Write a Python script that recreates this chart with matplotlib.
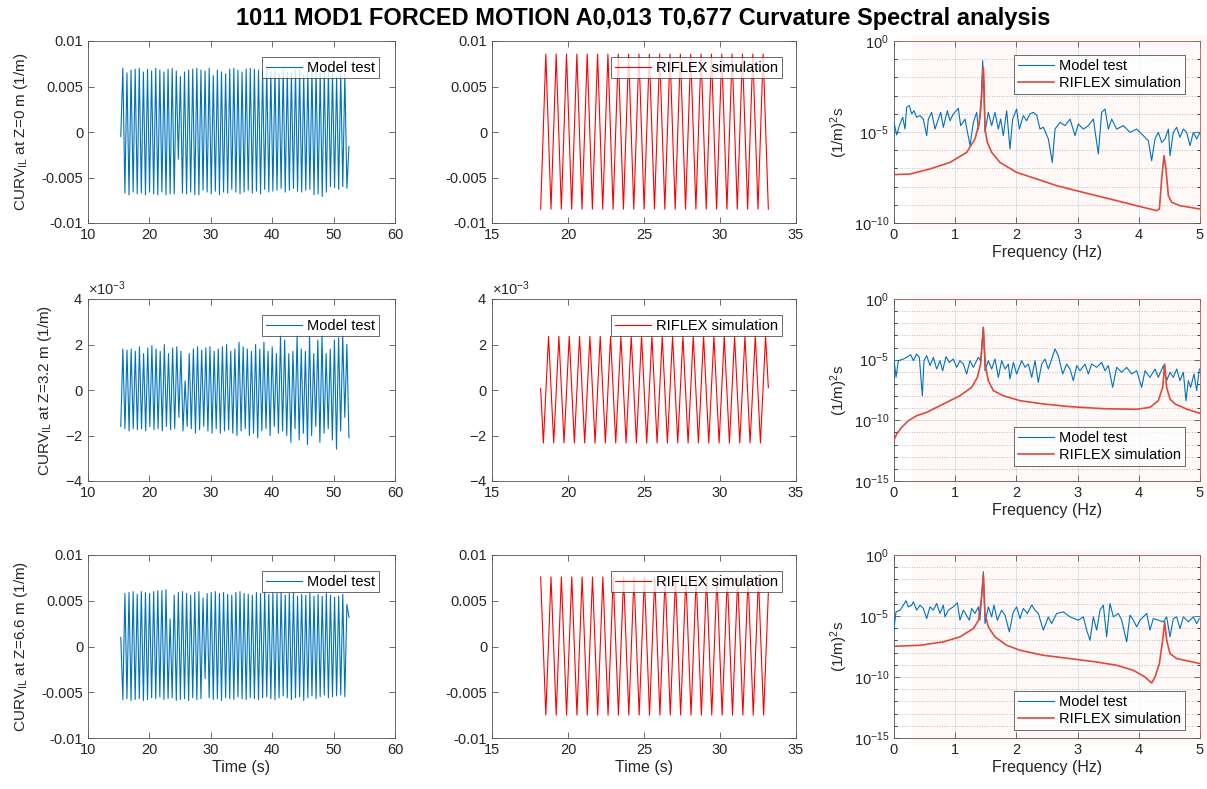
import numpy as np
import matplotlib
matplotlib.use("Agg")
import matplotlib.pyplot as plt
from matplotlib.ticker import FuncFormatter, ScalarFormatter, LogLocator, NullFormatter, FixedLocator
from matplotlib.patches import Rectangle
import matplotlib.font_manager as fm

# ---------------------------------------------------------------- data ----
title = "1011 MOD1 FORCED MOTION A0,013 T0,677 Curvature Spectral analysis"
ylabels_time = [r"CURV$_{\mathrm{IL}}$ at Z=0 m (1/m)",
                r"CURV$_{\mathrm{IL}}$ at Z=3.2 m (1/m)",
                r"CURV$_{\mathrm{IL}}$ at Z=6.6 m (1/m)"]
ylabel_psd = r"(1/m)$^{2}$s"

# Model test time series (values x1e-3), extremes read cycle by cycle
mt1_t_range = (15.34, 52.5)
mt1_start, mt1_end = -0.5, -1.6
mt1_peaks = [7.0, 6.5, 6.8, 6.9, 7.0, 6.6, 6.9, 6.7, 7.0, 6.8, 6.6, 6.9, 7.0, 6.7, 6.1, 6.6, 6.8, 6.9, 7.0,
             6.8, 6.7, 7.0, 6.2, 6.8, 6.6, 6.4, 6.9, 7.0, 6.8, 6.6, 6.9, 7.0, 6.9, 6.8, 6.7, 6.9, 6.6, 6.8,
             6.4, 6.9, 6.6, 6.5, 6.8, 6.9, 6.2, 6.6, 6.8, 6.9, 6.5, 6.7, 6.8, 6.6, 6.2, 6.5, 6.4]
mt1_troughs = [-6.7, -6.9, -6.6, -6.8, -6.7, -6.9, -6.6, -6.8, -6.9, -6.6, -6.9, -6.8, -6.8, -3.0, -6.7,
               -6.8, -6.6, -6.9, -6.9, -6.4, -6.6, -6.8, -6.5, -6.9, -6.6, -6.7, -6.3, -6.6, -6.8, -6.6,
               -6.4, -6.7, -6.5, -6.8, -6.3, -6.6, -6.5, -6.4, -6.2, -6.6, -6.4, -6.2, -6.5, -6.6, -6.4,
               -6.3, -6.9, -6.8, -7.1, -6.6, -6.0, -6.1, -6.3, -6.0, -6.2]

mt2_t_range = (15.34, 52.5)
mt2_start = -1.6
mt2_peaks = [1.8, 1.75, 1.8, 1.7, 1.9, 1.6, 1.85, 1.95, 1.8, 1.7, 2.0, 1.6, 1.85, 1.9, 1.7, 0.4, 1.6, 1.8,
             1.9, 1.75, 1.85, 1.9, 1.7, 1.8, 1.9, 2.0, 1.7, 1.8, 2.1, 1.9, 1.8, 1.7, 2.0, 1.8, 2.1, 1.7,
             1.9, 1.6, 2.4, 2.2, 1.6, 1.7, 2.4, 1.8, 1.7, 2.4, 1.6, 2.2, 2.4, 1.6, 1.8, 2.2, 2.3, 2.4, 2.0]
mt2_troughs = [-1.7, -1.8, -1.7, -1.75, -1.7, -1.8, -1.6, -1.75, -1.7, -1.8, -1.6, -1.75, -1.7, -1.2,
               -1.8, -1.6, -1.7, -1.9, -1.75, -1.6, -1.8, -1.9, -1.7, -1.9, -1.8, -1.75, -1.9, -2.0,
               -1.8, -1.7, -2.0, -1.9, -2.1, -1.8, -1.7, -2.0, -1.6, -1.9, -1.8, -2.0, -2.3, -1.7,
               -2.2, -1.9, -2.4, -2.0, -1.6, -2.3, -1.9, -1.7, -2.2, -2.6, -1.8, -1.2, -2.1]

mt3_t_range = (15.34, 52.5)
mt3_start, mt3_end = 1.0, 3.2
mt3_troughs = [-5.8, -5.7, -5.9, -5.8, -5.7, -5.9, -5.8, -5.6, -5.7, -5.5, -5.8, -5.7, -5.6, -5.9, -5.8,
               -5.7, -5.9, -5.6, -5.8, -5.7, -3.5, -5.6, -5.8, -5.7, -5.9, -5.6, -5.7, -5.8, -5.5,
               -5.7, -5.8, -5.6, -5.7, -5.8, -5.6, -5.5, -5.7, -5.8, -5.6, -5.4, -5.6, -5.8, -5.6,
               -5.5, -5.9, -5.6, -5.4, -5.7, -5.5, -5.3, -5.6, -5.5, -5.4, -5.3, -5.5]
mt3_peaks = [5.8, 5.9, 6.0, 5.7, 6.0, 5.9, 5.8, 6.0, 6.1, 6.1, 6.2, 3.0, 5.6, 5.9, 6.0, 5.8, 5.6, 5.9,
             6.0, 5.3, 5.8, 5.9, 6.0, 5.8, 5.9, 5.7, 5.6, 5.9, 6.0, 5.8, 5.7, 5.6, 5.9, 5.8, 6.0, 5.7,
             5.9, 5.8, 5.9, 5.6, 5.8, 5.9, 5.5, 5.7, 5.6, 5.8, 5.5, 5.7, 5.5, 5.8, 5.6, 5.4, 5.5, 5.7, 4.6]

# RIFLEX simulation time series (values x1e-3)
rf1_t_range = (18.2, 33.18)
rf1_troughs = [-8.48, -8.48, -8.48, -8.48, -8.48, -8.48, -8.48, -8.48, -8.48, -8.48, -8.48, -8.48,
               -8.48, -8.48, -8.48, -8.48, -8.48, -8.48, -8.48, -8.48, -8.48, -8.48, -8.48]
rf1_peaks = [8.56, 8.56, 8.56, 8.56, 8.56, 8.56, 8.56, 8.56, 8.56, 8.56, 8.56, 8.56, 8.56, 8.56, 8.56,
             8.56, 8.56, 8.56, 8.56, 8.56, 8.56, 8.56]

rf2_t_edges = (18.2, 33.18)
rf2_t_extremes = (18.38, 33.0)
rf2_start, rf2_end = 0.07, 0.1
rf2_troughs = [-2.33, -2.33, -2.33, -2.33, -2.33, -2.33, -2.33, -2.33, -2.33, -2.33, -2.33, -2.33,
               -2.33, -2.33, -2.33, -2.33, -2.33, -2.33, -2.33, -2.33, -2.33, -2.33]
rf2_peaks = [2.36, 2.36, 2.36, 2.36, 2.36, 2.36, 2.36, 2.36, 2.36, 2.36, 2.36, 2.36, 2.36, 2.36, 2.36,
             2.36, 2.36, 2.36, 2.36, 2.36, 2.36, 2.36]

rf3_t_extremes = (18.2, 32.87)
rf3_t_end = 33.18
rf3_end = 5.8
rf3_peaks = [7.6, 7.6, 7.6, 7.6, 7.6, 7.6, 7.6, 7.6, 7.6, 7.6, 7.6, 7.6, 7.6, 7.6, 7.6, 7.6, 7.6, 7.6,
             7.6, 7.6, 7.6, 7.6]
rf3_troughs = [-7.5, -7.5, -7.5, -7.5, -7.5, -7.5, -7.5, -7.5, -7.5, -7.5, -7.5, -7.5, -7.5, -7.5, -7.5,
               -7.5, -7.5, -7.5, -7.5, -7.5, -7.5, -7.5]

# Spectra: frequency (Hz) and log10 of PSD ((1/m)^2 s)
psd1_mt_f = [0.00, 0.044, 0.087, 0.142, 0.18, 0.207, 0.251, 0.289, 0.327, 0.37, 0.425, 0.479, 0.534,
             0.561, 0.615, 0.67, 0.724, 0.763, 0.806, 0.871, 0.915, 0.969, 1.051, 1.089, 1.16, 1.242,
             1.296, 1.351, 1.378, 1.416, 1.449, 1.47, 1.487, 1.541, 1.596, 1.65, 1.705, 1.743, 1.786,
             1.841, 1.895, 1.939, 2.004, 2.048, 2.113, 2.168, 2.22, 2.277, 2.331, 2.386, 2.44, 2.522,
             2.587, 2.631, 2.712, 2.794, 2.876, 2.958, 3.012, 3.094, 3.175, 3.257, 3.339, 3.393, 3.448,
             3.502, 3.557, 3.638, 3.747, 3.856, 3.965, 4.074, 4.156, 4.21, 4.265, 4.319, 4.374, 4.428,
             4.483, 4.51, 4.564, 4.619, 4.673, 4.728, 4.782, 4.837, 4.891, 4.946, 5.0]
psd1_mt_log = [-4.47, -5.16, -4.65, -4.19, -4.84, -3.64, -3.55, -4.01, -3.83, -4.19, -4.10, -4.29, -5.20,
               -4.29, -3.92, -4.84, -4.29, -3.92, -4.74, -3.83, -4.38, -4.01, -3.70, -4.65, -4.29, -5.75,
               -4.47, -3.92, -4.84, -3.92, -1.08, -3.0, -5.02, -3.92, -4.65, -3.92, -4.84, -4.29, -5.20,
               -3.83, -5.93, -4.29, -3.74, -4.84, -4.10, -4.38, -4.01, -3.92, -4.07, -4.84, -4.74, -5.38,
               -6.67, -4.84, -4.47, -4.65, -4.29, -5.20, -4.56, -4.84, -4.65, -4.29, -6.21, -3.92, -3.74,
               -4.84, -4.29, -4.84, -4.65, -5.02, -4.84, -5.20, -5.48, -6.58, -5.38, -5.02, -5.57, -5.38,
               -4.84, -6.30, -5.02, -4.74, -5.29, -4.84, -5.02, -5.75, -5.02, -5.38, -5.02]
psd1_rf_f = [0.0, 0.261, 0.588, 0.915, 1.187, 1.324, 1.394, 1.432, 1.449, 1.46, 1.471, 1.487, 1.525,
             1.596, 1.732, 2.004, 2.331, 2.658, 3.094, 3.529, 3.965, 4.292, 4.336, 4.374, 4.412, 4.444,
             4.483, 4.537, 4.673, 5.0]
psd1_rf_log = [-7.34, -7.31, -7.03, -6.67, -6.12, -5.38, -4.47, -3.0, -1.9, -1.45, -2.27, -4.84, -5.57,
               -6.12, -6.67, -7.22, -7.58, -7.95, -8.32, -8.68, -9.05, -9.32, -9.23, -7.58, -6.30, -7.03,
               -8.50, -8.86, -9.05, -9.23]

psd2_mt_f = [0.0, 0.033, 0.071, 0.153, 0.207, 0.272, 0.316, 0.37, 0.414, 0.463, 0.49, 0.534, 0.588,
             0.643, 0.697, 0.752, 0.795, 0.85, 0.904, 0.969, 1.024, 1.078, 1.133, 1.187, 1.242, 1.296,
             1.378, 1.416, 1.46, 1.487, 1.541, 1.596, 1.65, 1.705, 1.759, 1.814, 1.868, 1.895, 1.95,
             2.004, 2.086, 2.141, 2.195, 2.25, 2.304, 2.358, 2.413, 2.467, 2.522, 2.631, 2.685, 2.756,
             2.821, 2.876, 2.93, 2.985, 3.039, 3.121, 3.175, 3.23, 3.312, 3.393, 3.448, 3.502, 3.573,
             3.638, 3.72, 3.802, 3.883, 3.965, 4.047, 4.101, 4.183, 4.265, 4.319, 4.401, 4.455, 4.51,
             4.564, 4.619, 4.673, 4.728, 4.771, 4.809, 4.847, 4.902, 4.946, 4.989]
psd2_mt_log = [-4.95, -6.46, -5.08, -4.95, -4.81, -4.59, -5.08, -4.53, -4.81, -7.97, -5.08, -4.67, -5.49,
               -4.81, -5.77, -5.08, -5.91, -4.75, -5.22, -4.95, -5.63, -5.08, -5.36, -6.18, -5.08, -5.63,
               -4.81, -5.08, -2.34, -5.91, -5.08, -5.77, -4.95, -6.46, -5.08, -5.77, -5.36, -6.59, -5.22,
               -6.18, -5.08, -5.63, -5.36, -6.46, -5.08, -6.87, -5.36, -4.95, -5.77, -4.12, -4.67, -6.18,
               -5.36, -5.77, -6.73, -5.49, -5.91, -5.36, -6.18, -5.36, -5.63, -5.22, -5.91, -5.49, -7.28,
               -5.63, -6.04, -5.63, -6.18, -5.91, -7.28, -5.91, -6.46, -5.77, -6.46, -5.49, -6.73, -6.04,
               -6.46, -5.77, -6.73, -6.04, -8.38, -6.73, -7.28, -6.18, -7.55, -5.77]
psd2_rf_f = [0.0, 0.044, 0.125, 0.234, 0.37, 0.534, 0.697, 0.915, 1.078, 1.269, 1.362, 1.416, 1.443,
             1.46, 1.476, 1.498, 1.541, 1.623, 1.786, 2.059, 2.44, 2.876, 3.42, 3.965, 4.183, 4.319,
             4.39, 4.423, 4.455, 4.51, 4.592, 4.782, 5.0]
psd2_rf_log = [-11.62, -11.13, -10.58, -10.03, -9.62, -9.34, -8.93, -8.38, -7.97, -7.28, -6.46, -5.36,
               -3.43, -2.34, -3.98, -5.63, -6.73, -7.55, -7.97, -8.38, -8.65, -8.87, -9.04, -9.09, -8.93,
               -8.38, -7.28, -5.36, -7.28, -8.24, -8.65, -9.07, -9.43]

psd3_mt_f = [0.0, 0.033, 0.098, 0.153, 0.196, 0.234, 0.289, 0.316, 0.37, 0.425, 0.479, 0.534, 0.588,
             0.643, 0.697, 0.752, 0.806, 0.833, 0.888, 0.969, 1.035, 1.078, 1.133, 1.231, 1.269, 1.324,
             1.378, 1.405, 1.46, 1.487, 1.541, 1.596, 1.634, 1.688, 1.759, 1.814, 1.885, 1.95, 2.004,
             2.059, 2.113, 2.179, 2.25, 2.304, 2.358, 2.44, 2.522, 2.576, 2.658, 2.767, 2.876, 3.012,
             3.094, 3.148, 3.203, 3.257, 3.312, 3.366, 3.42, 3.475, 3.529, 3.584, 3.666, 3.72, 3.802,
             3.856, 3.911, 3.965, 4.02, 4.129, 4.183, 4.237, 4.319, 4.401, 4.455, 4.51, 4.564, 4.619,
             4.673, 4.728, 4.809, 4.891, 4.946, 4.989]
psd3_mt_log = [-6.03, -4.66, -4.52, -4.11, -3.75, -4.25, -4.11, -3.84, -4.52, -4.11, -4.38, -5.21, -4.25,
               -4.52, -3.97, -4.79, -4.11, -5.07, -4.52, -4.25, -3.92, -5.34, -4.52, -5.34, -4.38, -4.79,
               -4.25, -5.34, -1.37, -5.62, -4.25, -5.07, -4.11, -5.34, -4.52, -4.93, -6.30, -4.66, -4.25,
               -5.21, -4.38, -4.79, -4.11, -4.52, -4.79, -6.16, -5.07, -5.62, -4.79, -4.66, -5.07, -5.34,
               -5.07, -6.16, -6.99, -5.07, -6.16, -4.52, -4.11, -6.71, -3.97, -5.07, -4.79, -5.34, -7.12,
               -4.93, -5.34, -5.89, -5.34, -4.79, -6.16, -5.21, -5.34, -5.48, -5.07, -6.71, -5.21, -5.07,
               -6.03, -5.07, -5.48, -5.07, -5.62, -5.21]
psd3_rf_f = [0.0, 0.425, 0.806, 1.078, 1.296, 1.383, 1.432, 1.46, 1.487, 1.541, 1.65, 1.841, 2.059, 2.44,
             2.876, 3.312, 3.638, 3.911, 4.101, 4.21, 4.265, 4.336, 4.39, 4.423, 4.455, 4.51, 4.619, 5.0]
psd3_rf_log = [-7.48, -7.40, -7.12, -6.71, -6.03, -5.34, -3.42, -1.64, -4.79, -5.89, -6.71, -7.40, -7.81,
               -8.22, -8.49, -8.77, -9.04, -9.45, -10.0, -10.49, -10.0, -8.90, -6.99, -5.48, -6.99, -8.08,
               -8.49, -8.90]

# ---------------------------------------------------------------- style ---
W, H = 1207, 789
plt.rcParams["font.family"] = ["Liberation Sans", "DejaVu Sans"]
plt.rcParams["mathtext.fontset"] = "custom"
plt.rcParams["mathtext.rm"] = "Liberation Sans"
plt.rcParams["mathtext.it"] = "Liberation Sans:italic"
plt.rcParams["mathtext.bf"] = "Liberation Sans:bold"
plt.rcParams["mathtext.default"] = "regular"
plt.rcParams["axes.unicode_minus"] = False

avail = {f.name for f in fm.fontManager.ttflist}
title_family = "Liberation Sans Narrow" if "Liberation Sans Narrow" in avail else "Liberation Sans"

C_BLUE = "#0072BD"
C_RED = "#FF0000"
C_PSD_RED = "#dc4a3c"
C_AX = "#262626"

fig = plt.figure(figsize=(W / 100, H / 100), dpi=100)


def interleave(a, b):
    out = np.empty(len(a) + len(b))
    out[0::2] = a
    out[1::2] = b
    return out


def px_axes(x0, top, x1, bottom):
    return fig.add_axes([x0 / W, 1 - bottom / H, (x1 - x0) / W, (bottom - top) / H])


def style(ax):
    for s in ax.spines.values():
        s.set_linewidth(0.6)
        s.set_color("#555555")
    ax.tick_params(which="both", direction="in", top=True, right=True, colors=C_AX,
                   labelsize=10.5, width=0.6, length=4)
    ax.tick_params(which="major", colors="#555555", labelcolor=C_AX)


def legend(ax, loc, anchor, labels_lines):
    lg = ax.legend(*labels_lines, loc=loc, bbox_to_anchor=anchor, fontsize=10.5, frameon=True,
                   fancybox=False, shadow=False, borderpad=0.25, handlelength=2.5,
                   handletextpad=0.35, borderaxespad=0.0, labelspacing=0.25)
    lg.get_frame().set_edgecolor(C_AX)
    lg.get_frame().set_linewidth(0.6)
    return lg


rows = [(41, 223), (299, 481), (555, 738)]
gfmt = FuncFormatter(lambda v, p: "%g" % v)

# time series data assembly
mt_series = [
    np.concatenate([[mt1_start], interleave(mt1_peaks, mt1_troughs), [mt1_end]]) * 1e-3,
    np.concatenate([[mt2_start], interleave(mt2_peaks, mt2_troughs)]) * 1e-3,
    np.concatenate([[mt3_start], interleave(mt3_troughs, mt3_peaks), [mt3_end]]) * 1e-3,
]
mt_ranges = [mt1_t_range, mt2_t_range, mt3_t_range]

rf1_y = interleave(rf1_troughs, rf1_peaks) * 1e-3
rf1_t = np.linspace(rf1_t_range[0], rf1_t_range[1], len(rf1_y))
rf2_ext = interleave(rf2_troughs, rf2_peaks)
rf2_y = np.concatenate([[rf2_start], rf2_ext, [rf2_end]]) * 1e-3
rf2_t = np.concatenate([[rf2_t_edges[0]], np.linspace(rf2_t_extremes[0], rf2_t_extremes[1], len(rf2_ext)),
                        [rf2_t_edges[1]]])
rf3_ext = interleave(rf3_peaks, rf3_troughs)
rf3_y = np.concatenate([rf3_ext, [rf3_end]]) * 1e-3
rf3_t = np.concatenate([np.linspace(rf3_t_extremes[0], rf3_t_extremes[1], len(rf3_ext)), [rf3_t_end]])
rf_series = [(rf1_t, rf1_y), (rf2_t, rf2_y), (rf3_t, rf3_y)]

psd_data = [
    (psd1_mt_f, psd1_mt_log, psd1_rf_f, psd1_rf_log, 1e-10),
    (psd2_mt_f, psd2_mt_log, psd2_rf_f, psd2_rf_log, 1e-15),
    (psd3_mt_f, psd3_mt_log, psd3_rf_f, psd3_rf_log, 1e-15),
]

for i, (top, bottom) in enumerate(rows):
    # ---- model test
    ax = px_axes(88, top, 395, bottom)
    y = mt_series[i]
    t = np.linspace(mt_ranges[i][0], mt_ranges[i][1], len(y))
    ln, = ax.plot(t, y, color=C_BLUE, lw=0.8)
    ax.set_xlim(10, 60)
    ax.set_xticks([10, 20, 30, 40, 50, 60])
    style(ax)
    if i == 1:
        ax.set_ylim(-4e-3, 4e-3)
        ax.set_yticks([-4e-3, -2e-3, 0, 2e-3, 4e-3])
        sf = ScalarFormatter(useMathText=True)
        sf.set_powerlimits((-2, 2))
        ax.yaxis.set_major_formatter(sf)
        ax.yaxis.get_offset_text().set_fontsize(10.5)
        ax.yaxis.get_offset_text().set_color(C_AX)
    else:
        ax.set_ylim(-0.01, 0.01)
        ax.set_yticks([-0.01, -0.005, 0, 0.005, 0.01])
        ax.yaxis.set_major_formatter(gfmt)
    ax.set_ylabel(ylabels_time[i], fontsize=11, color=C_AX, labelpad=8)
    if i == 2:
        ax.set_xlabel("Time (s)", fontsize=11.5, color=C_AX, labelpad=2)
    legend(ax, "upper right", ((379 - 88) / 307, 1 - 16 / 182), ([ln], ["Model test"]))

    # ---- RIFLEX
    ax = px_axes(492, top, 796, bottom)
    t, y = rf_series[i]
    ln, = ax.plot(t, y, color=C_RED, lw=0.8)
    ax.set_xlim(15, 35)
    ax.set_xticks([15, 20, 25, 30, 35])
    style(ax)
    if i == 1:
        ax.set_ylim(-4e-3, 4e-3)
        ax.set_yticks([-4e-3, -2e-3, 0, 2e-3, 4e-3])
        sf = ScalarFormatter(useMathText=True)
        sf.set_powerlimits((-2, 2))
        ax.yaxis.set_major_formatter(sf)
        ax.yaxis.get_offset_text().set_fontsize(10.5)
        ax.yaxis.get_offset_text().set_color(C_AX)
    else:
        ax.set_ylim(-0.01, 0.01)
        ax.set_yticks([-0.01, -0.005, 0, 0.005, 0.01])
        ax.yaxis.set_major_formatter(gfmt)
    if i == 2:
        ax.set_xlabel("Time (s)", fontsize=11.5, color=C_AX, labelpad=2)
    legend(ax, "upper right", ((782 - 492) / 304, 1 - 16 / 182), ([ln], ["RIFLEX simulation"]))

    # ---- spectra
    fmt_f, fmt_l, rf_f, rf_l, ymin = psd_data[i]
    # faint ghost tint present in the reference image
    fig.patches.append(Rectangle((912 / W, 1 - (bottom + 8) / H), (W - 912) / W, (bottom - top + 14) / H,
                                 transform=fig.transFigure, facecolor="#fef8f7", edgecolor="none",
                                 zorder=-5))
    ax = px_axes(894, top, 1200, bottom)
    ax.set_facecolor("none")
    l1, = ax.plot(fmt_f, 10.0 ** np.array(fmt_l), color=C_BLUE, lw=0.8, zorder=3)
    l2, = ax.plot(rf_f, 10.0 ** np.array(rf_l), color=C_PSD_RED, lw=1.2, zorder=4)
    ax.set_yscale("log")
    ax.set_xlim(0, 5)
    ax.set_ylim(ymin, 1)
    ax.set_xticks([0, 1, 2, 3, 4, 5])
    yt = [1e-15, 1e-10, 1e-5, 1] if ymin < 1e-12 else [1e-10, 1e-5, 1]
    ax.yaxis.set_major_locator(FixedLocator(yt))
    ax.yaxis.set_minor_locator(LogLocator(base=10, subs=(1.0,), numticks=40))
    ax.yaxis.set_minor_formatter(NullFormatter())
    style(ax)
    ax.tick_params(which="minor", length=2.5)
    ax.spines["top"].set_color("#b45a55")
    ax.spines["right"].set_color("#b45a55")
    ax.grid(which="major", axis="x", color="#d3e3f0", lw=0.7, ls="-")
    ax.grid(which="major", axis="y", color="#e0e0e0", lw=0.7, ls="-")
    ax.grid(which="minor", axis="y", color="#a8a8a8", lw=0.6, ls=(0, (1, 2)))
    ax.set_axisbelow(True)
    ax.set_ylabel(ylabel_psd, fontsize=11, color=C_AX, labelpad=3)
    ax.set_xlabel("Frequency (Hz)", fontsize=11.5, color=C_AX, labelpad=2)
    if i == 0:
        legend(ax, "upper right", ((1185 - 894) / 306, 1 - 14 / 182),
               ([l1, l2], ["Model test", "RIFLEX simulation"]))
    else:
        legend(ax, "lower right", ((1185 - 894) / 306, (15 if i == 1 else 8) / 182),
               ([l1, l2], ["Model test", "RIFLEX simulation"]))

fig.text(643 / W, 1 - 18 / H, title, ha="center", va="center", fontsize=17, fontweight="bold",
         family=title_family, color="black")

fig.savefig("out.png", dpi=100)
